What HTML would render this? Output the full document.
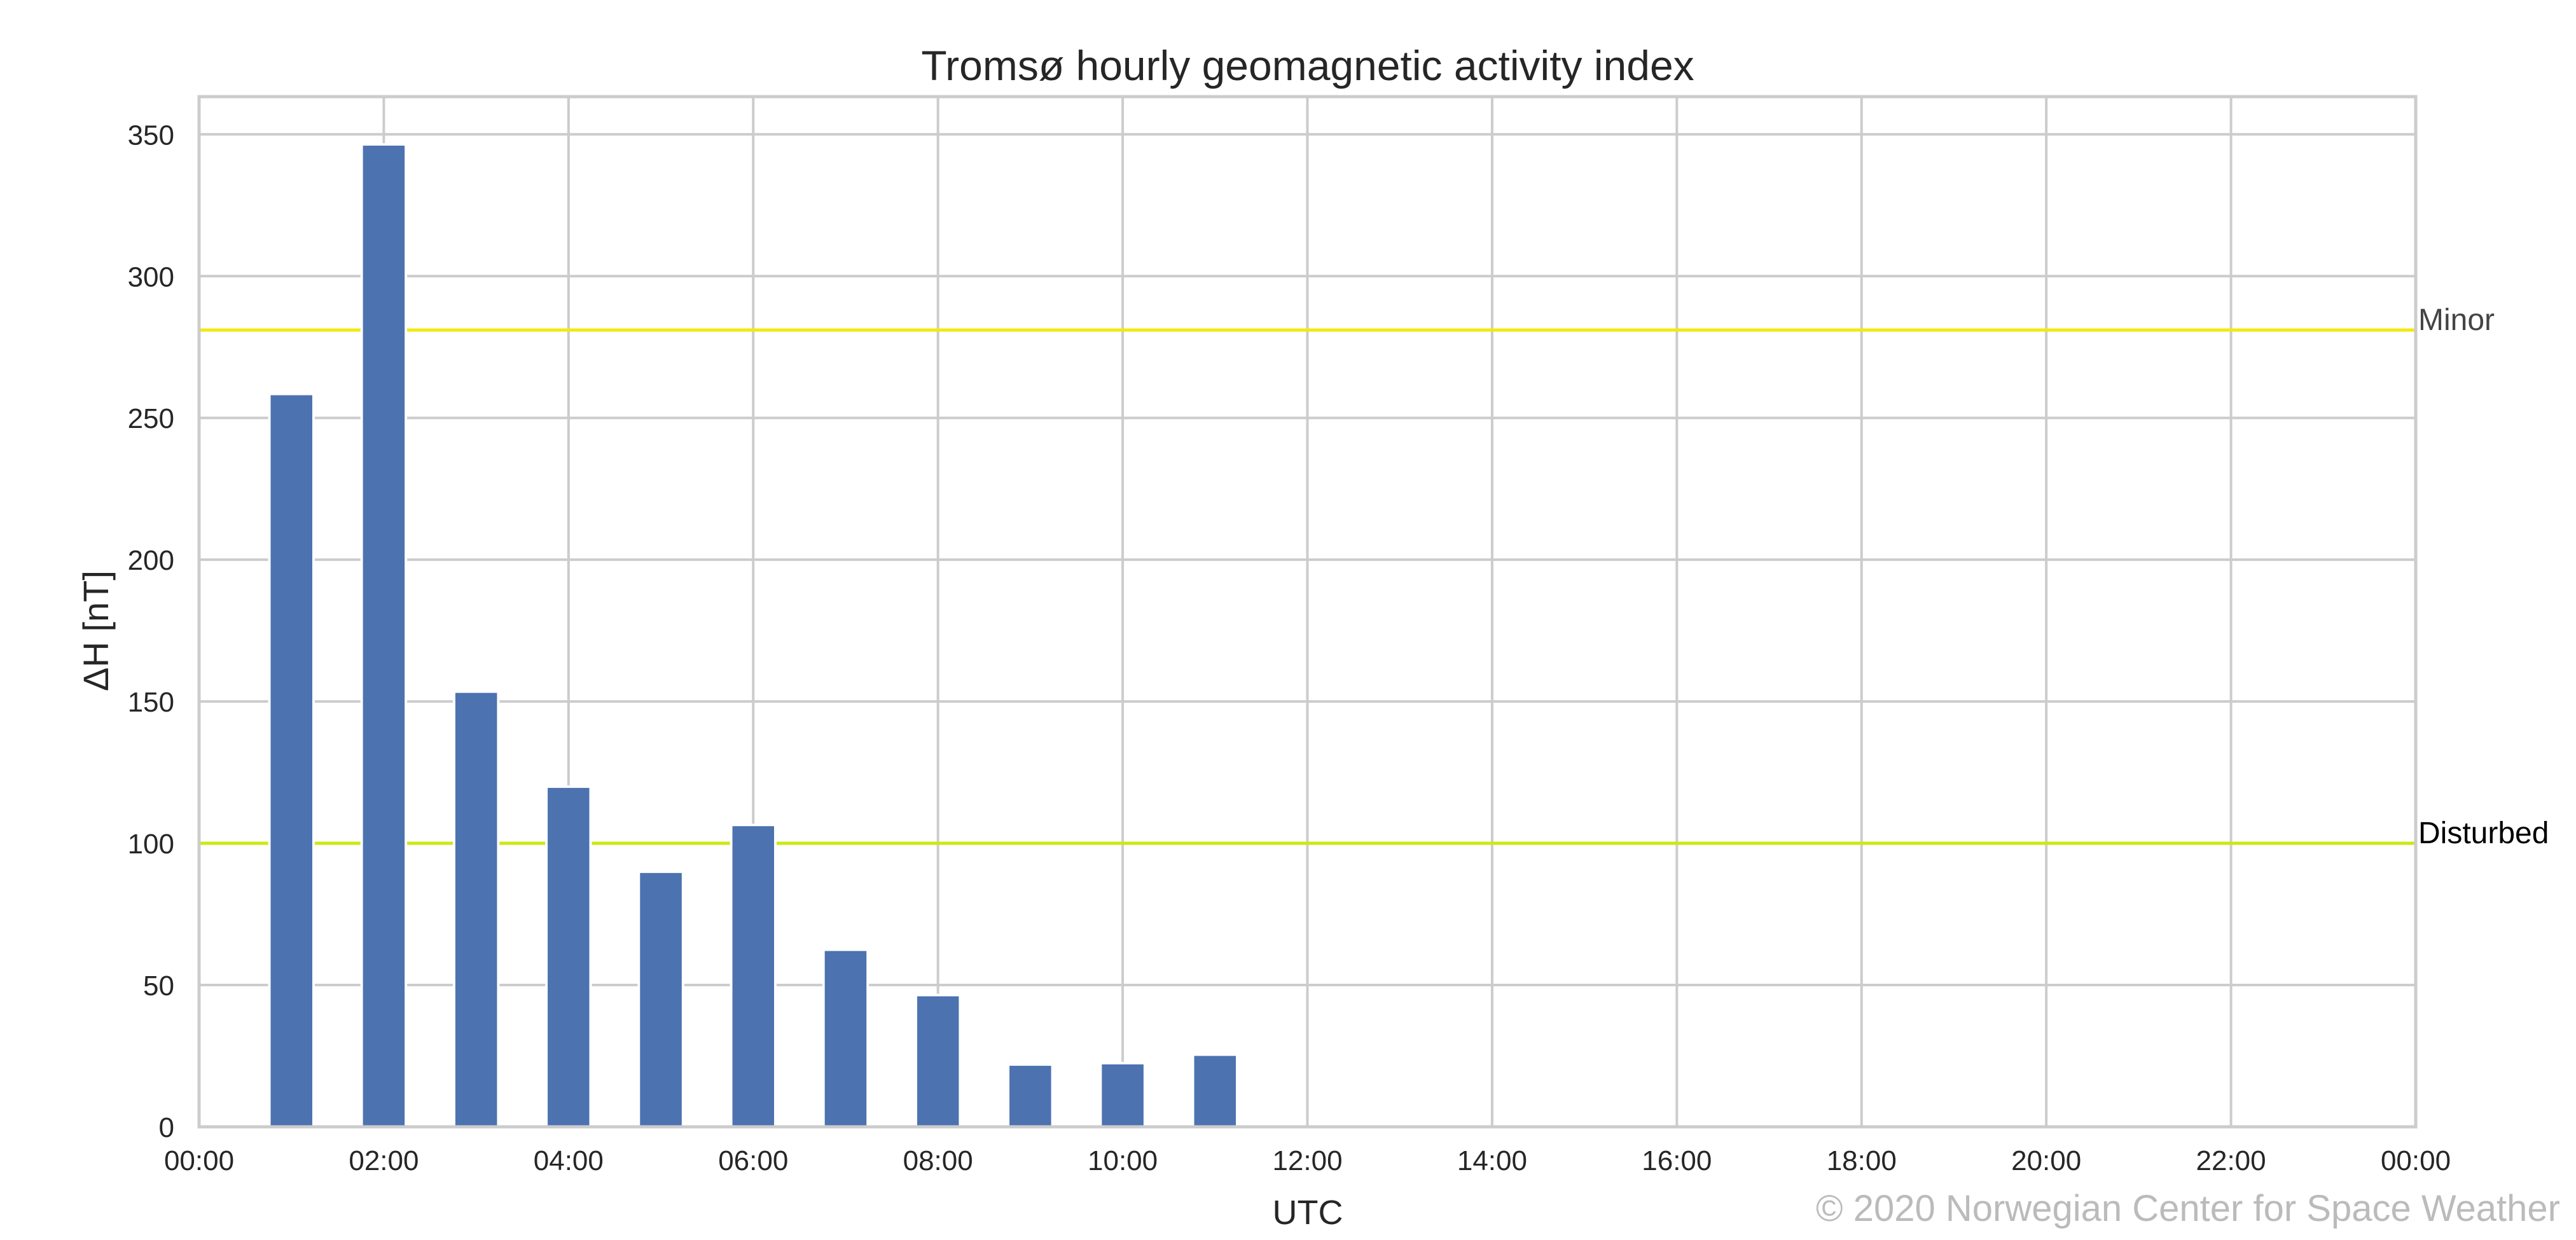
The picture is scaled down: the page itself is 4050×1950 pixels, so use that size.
<!DOCTYPE html>
<html><head><meta charset="utf-8"><style>
html,body{margin:0;padding:0;background:#fff;}
svg{display:block;font-family:"Liberation Sans",sans-serif;}
</style></head><body>
<svg id="chart" width="4050" height="1950" viewBox="0 0 4050 1950" xmlns="http://www.w3.org/2000/svg">
<text x="2056" y="126" font-size="66" text-anchor="middle" fill="#262626">Tromsø hourly geomagnetic activity index</text>
<g id="grid"></g>
<g id="thresh"></g>
<g id="bars"></g>
<rect x="313" y="152" width="3485" height="1620" fill="none" stroke="#cccccc" stroke-width="5"/>
<g id="ticks"></g>
<text x="2056" y="1925" font-size="54" text-anchor="middle" fill="#262626">UTC</text>
<text transform="translate(170,992) rotate(-90)" font-size="56" text-anchor="middle" fill="#262626">ΔH [nT]</text>
<text x="4025" y="1920" font-size="58" text-anchor="end" fill="#bbbbbb">© 2020 Norwegian Center for Space Weather</text>
</svg>
<script>
const hours = [1,2,3,4,5,6,7,8,9,10,11];
const values = [258,346,153,119.5,89.5,106,62,46,21.5,22,25];
const yTicks = [0,50,100,150,200,250,300,350];
const xTickHours = [0,2,4,6,8,10,12,14,16,18,20,22,24];
const xTickLabels = ["00:00","02:00","04:00","06:00","08:00","10:00","12:00","14:00","16:00","18:00","20:00","22:00","00:00"];
const thresholdValues = [281,100];
const thresholdNames = ["Minor","Disturbed"];
const L=313,R=3798,T=152,B=1772,YMAX=363.3;
const xs=h=>L+(R-L)*h/24;
const ys=v=>B-(B-T)*v/YMAX;
const NS="http://www.w3.org/2000/svg";
function mk(tag,attrs,parent,txt){const e=document.createElementNS(NS,tag);for(const k in attrs)e.setAttribute(k,attrs[k]);if(txt!==undefined)e.textContent=txt;parent.appendChild(e);return e;}
const grid=document.getElementById('grid'),bars=document.getElementById('bars'),th=document.getElementById('thresh'),ticks=document.getElementById('ticks');
yTicks.forEach(v=>{
  const l=mk('line',{x1:L,x2:R,y1:ys(v),y2:ys(v),stroke:'#cccccc','stroke-width':4},grid);
  
  
  const t=mk('text',{x:274,y:ys(v)+16,'font-size':44,'text-anchor':'end',fill:'#262626'},ticks,String(v));
  
  
});
xTickHours.forEach((h,i)=>{
  const l=mk('line',{x1:xs(h),x2:xs(h),y1:T,y2:B,stroke:'#cccccc','stroke-width':4},grid);
  
  
  const t=mk('text',{x:xs(h),y:1840,'font-size':44,'text-anchor':'middle',fill:'#262626'},ticks,xTickLabels[i]);
  
  
});
const tColors=['#f2ea0c','#cde812'];
const tText=['#444444','#000000'];
thresholdValues.forEach((v,i)=>{
  const l=mk('line',{x1:L,x2:R,y1:ys(v),y2:ys(v),stroke:tColors[i],'stroke-width':5},th);
  
  
  const t=mk('text',{x:R+4,y:ys(v),'font-size':48,fill:tText[i]},th,thresholdNames[i]);
  
  
});
const bw=(R-L)/24*0.45;
hours.forEach((h,i)=>{
  const y=ys(values[i]);
  const r=mk('rect',{x:xs(h)-bw/2,y:y,width:bw,height:B-y,fill:'#4c72b0',stroke:'#ffffff','stroke-width':8,'paint-order':'stroke'},bars);
  
  
  const r2=mk('rect',{x:xs(h)-bw/2,y:y,width:bw,height:B-y,fill:'#4c72b0'},bars);
  
  
});
</script>
</body></html>
